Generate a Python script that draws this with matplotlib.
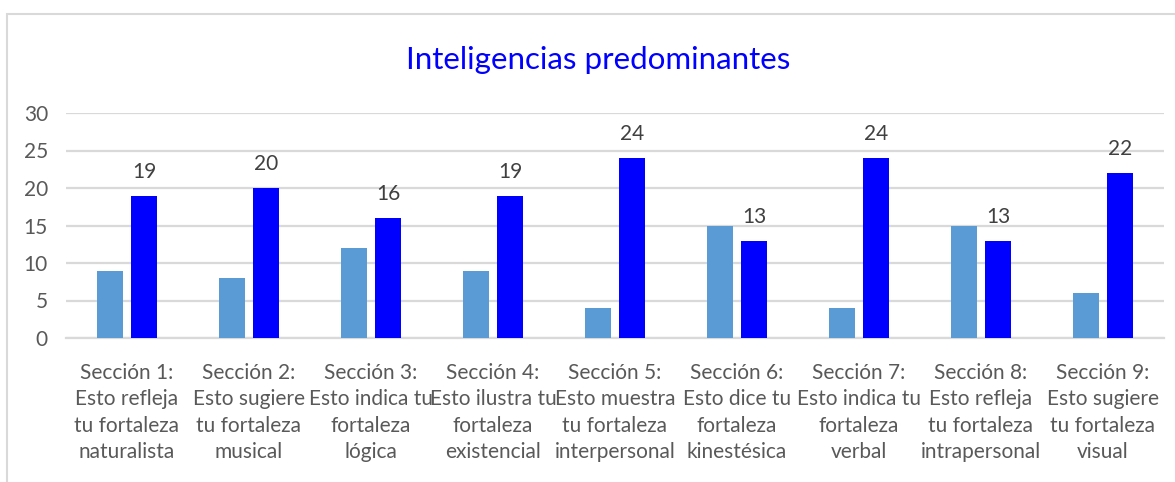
import numpy as np
import matplotlib.pyplot as plt
from matplotlib.patches import Rectangle

plt.rcParams['font.family'] = ['Lato', 'DejaVu Sans']

secciones = [
    "Sección 1:\nEsto refleja\ntu fortaleza\nnaturalista",
    "Sección 2:\nEsto sugiere\ntu fortaleza\nmusical",
    "Sección 3:\nEsto indica tu\nfortaleza\nlógica",
    "Sección 4:\nEsto ilustra tu\nfortaleza\nexistencial",
    "Sección 5:\nEsto muestra\ntu fortaleza\ninterpersonal",
    "Sección 6:\nEsto dice tu\nfortaleza\nkinestésica",
    "Sección 7:\nEsto indica tu\nfortaleza\nverbal",
    "Sección 8:\nEsto refleja\ntu fortaleza\nintrapersonal",
    "Sección 9:\nEsto sugiere\ntu fortaleza\nvisual",
]
serie_1 = [9, 8, 12, 9, 4, 15, 4, 15, 6]
serie_2 = [19, 20, 16, 19, 24, 13, 24, 13, 22]

W, H = 1175, 482
fig = plt.figure(figsize=(W / 100, H / 100), dpi=100)
ax = fig.add_axes([66 / W, (H - 338) / H, (1164 - 66) / W, 225 / H])

x = np.arange(len(secciones))
bw = 0.21
ax.bar(x - 0.14, serie_1, bw, color='#5B9BD5', zorder=3)
ax.bar(x + 0.14, serie_2, bw, color='#0000FF', zorder=3)

for xi, v in zip(x, serie_2):
    ax.annotate(str(v), (xi + 0.14, v), xytext=(0, 17), textcoords='offset points',
                ha='center', va='center', fontsize=15, color='#404040')

ax.set_xlim(-0.5, len(secciones) - 0.5)
ax.set_ylim(0, 30)
ax.set_yticks(range(0, 31, 5))
ax.yaxis.grid(True, color='#D9D9D9', linewidth=1.6, zorder=0)
ax.set_axisbelow(True)
for s in ['top', 'right', 'left']:
    ax.spines[s].set_visible(False)
ax.spines['bottom'].set_color('#D9D9D9')
ax.spines['bottom'].set_linewidth(1.6)
ax.tick_params(axis='both', length=0, labelsize=15, labelcolor='#595959')
ax.tick_params(axis='y', pad=13)
ax.tick_params(axis='x', pad=18)
ax.set_xticks(x)
ax.set_xticklabels(secciones, linespacing=1.4)

fig.text(598 / W, 1 - 60 / H, "Inteligencias predominantes", color='#0000FF',
         fontsize=22.5, ha='center', va='center')

fig.patches.append(Rectangle((7 / W, -0.1), 1.2, 1 - 14 / H + 0.1, transform=fig.transFigure,
                             fill=False, edgecolor='#D9D9D9', linewidth=1.5))

fig.savefig('out.png', dpi=100)
